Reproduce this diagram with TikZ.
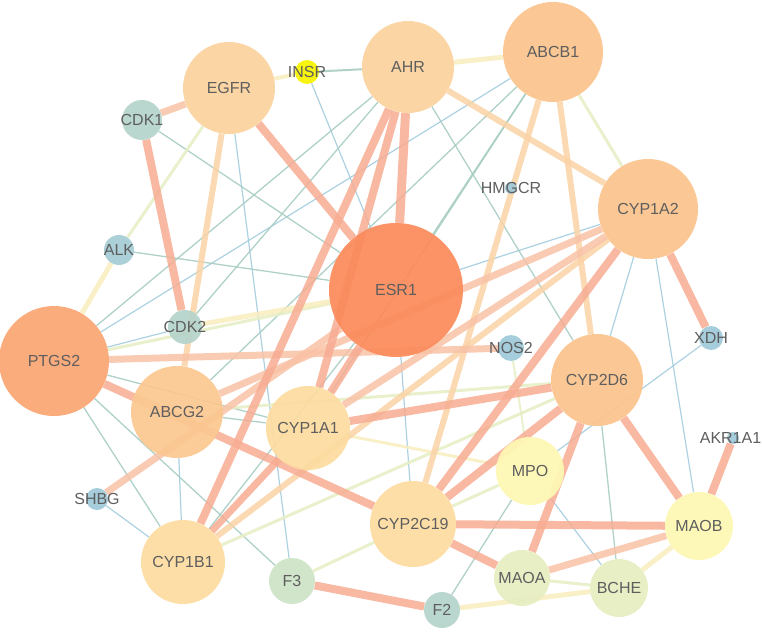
\documentclass[tikz,border=0pt]{standalone}
\usepackage{fontspec}
\setmainfont{Liberation Sans}
\pgfdeclarelayer{bg}
\pgfsetlayers{bg,main}
\definecolor{cESR}{HTML}{FB8B5B}
\definecolor{cPTGS}{HTML}{FBA673}
\definecolor{cOr}{HTML}{FBC48D}
\definecolor{cLOr}{HTML}{FCD29D}
\definecolor{cPale}{HTML}{FDDCA0}
\definecolor{cYel}{HTML}{FEF8B3}
\definecolor{cYG}{HTML}{E7EEC1}
\definecolor{cGr}{HTML}{CDE3C6}
\definecolor{cTeal}{HTML}{B5D4CB}
\definecolor{cBlue}{HTML}{9FC9D8}
\definecolor{cINSR}{HTML}{F7F300}
\definecolor{txt}{HTML}{5E5E5E}
\definecolor{eSal}{HTML}{F7AC92}
\definecolor{eLSal}{HTML}{F9C2A6}
\definecolor{eOr}{HTML}{FAD3A6}
\definecolor{ePY}{HTML}{F9EDBE}
\definecolor{eYG}{HTML}{E6EEC6}
\definecolor{eTeal}{HTML}{A6CCC2}
\definecolor{eBlue}{HTML}{A3CCDD}
\tikzset{
  gn/.style={circle, inner sep=0pt, draw=none, fill opacity=0.93},
  lab/.style={inner sep=0pt, text=txt, font=\fontsize{16}{18}\selectfont},
  esal/.style={draw=eSal, line width=8pt, draw opacity=0.85},
  elsal/.style={draw=eLSal, line width=7pt, draw opacity=0.85},
  eor/.style={draw=eOr, line width=6pt, draw opacity=0.85},
  epy/.style={draw=ePY, line width=5pt, draw opacity=0.85},
  eyg/.style={draw=eYG, line width=3pt, draw opacity=0.9},
  eteal/.style={draw=eTeal, line width=1.3pt, draw opacity=0.9},
  eblue/.style={draw=eBlue, line width=1.2pt, draw opacity=0.9}
}
\begin{document}
\begin{tikzpicture}[x=1pt,y=-1pt]
\useasboundingbox (0,0) rectangle (762,631);
% nodes (circles)
\node[gn, minimum size=134pt, fill=cESR] (ESR1) at (396,290) {};
\node[gn, minimum size=110pt, fill=cPTGS] (PTGS2) at (54,361) {};
\node[gn, minimum size=100pt, fill=cOr] (ABCB1) at (553,52) {};
\node[gn, minimum size=100pt, fill=cOr] (CYP1A2) at (648,209) {};
\node[gn, minimum size=92pt, fill=cOr] (CYP2D6) at (597,380) {};
\node[gn, minimum size=92pt, fill=cLOr] (EGFR) at (229,88) {};
\node[gn, minimum size=92pt, fill=cLOr] (AHR) at (408,67) {};
\node[gn, minimum size=92pt, fill=cOr!80!cLOr] (ABCG2) at (177,412) {};
\node[gn, minimum size=84pt, fill=cPale] (CYP1A1) at (308,428) {};
\node[gn, minimum size=84pt, fill=cPale] (CYP1B1) at (183,562) {};
\node[gn, minimum size=86pt, fill=cPale] (CYP2C19) at (413,524) {};
\node[gn, minimum size=68pt, fill=cYel] (MPO) at (530,471) {};
\node[gn, minimum size=68pt, fill=cYel] (MAOB) at (699,526) {};
\node[gn, minimum size=56pt, fill=cYG] (MAOA) at (522,578) {};
\node[gn, minimum size=58pt, fill=cYG] (BCHE) at (619,588) {};
\node[gn, minimum size=46pt, fill=cGr] (F3) at (292,581) {};
\node[gn, minimum size=36pt, fill=cTeal] (F2) at (442,610) {};
\node[gn, minimum size=40pt, fill=cTeal] (CDK1) at (142,120) {};
\node[gn, minimum size=34pt, fill=cTeal] (CDK2) at (185,327) {};
\node[gn, minimum size=30pt, fill=cBlue!70!cTeal] (ALK) at (119,250) {};
\node[gn, minimum size=26pt, fill=cBlue] (NOS2) at (511,348) {};
\node[gn, minimum size=24pt, fill=cBlue] (XDH) at (711,338) {};
\node[gn, minimum size=22pt, fill=cBlue] (SHBG) at (97,499) {};
\node[gn, minimum size=12pt, fill=cBlue] (HMGCR) at (511,188) {};
\node[gn, minimum size=12pt, fill=cBlue] (AKR1A1) at (733,438) {};
\node[gn, minimum size=24pt, fill=cINSR] (INSR) at (307,72) {};
% labels
\foreach \n in {ESR1,PTGS2,ABCB1,CYP1A2,CYP2D6,EGFR,AHR,ABCG2,CYP1A1,CYP1B1,CYP2C19,MPO,MAOB,MAOA,BCHE,F3,F2,CDK1,CDK2,ALK,NOS2,XDH,SHBG,HMGCR,INSR}
  \node[lab] (\n-l) at (\n) {\n};
\node[lab, xshift=-2.5pt] (AKR1A1-l) at (AKR1A1) {AKR1A1};
% edges
\begin{pgfonlayer}{bg}
% thin blue
\draw[eblue] (INSR) -- (ESR1);
\draw[eblue] (EGFR) -- (F3);
\draw[eblue] (ABCB1) -- (PTGS2);
\draw[eblue] (CYP1A2) -- (ESR1);
\draw[eblue] (CYP1A2) -- (MAOB);
\draw[eblue] (CYP1A2) -- (CYP2D6);
\draw[eblue] (XDH) -- (MPO);
\draw[eblue] (MPO) -- (BCHE);
\draw[eblue] (ESR1) -- (CYP2C19);
\draw[eblue] (PTGS2) -- (CDK2);
\draw[eblue] (SHBG) -- (CYP1B1);
\draw[eblue] (ABCG2) -- (CYP1B1);
% thin teal
\draw[eteal] (CDK1) -- (ESR1);
\draw[eteal] (ALK) -- (ESR1);
\draw[eteal] (AHR) -- (CDK2);
\draw[eteal] (PTGS2) -- (AHR);
\draw[eteal] (AHR) -- (CYP2D6);
\draw[eteal] (ABCB1) -- (ABCG2);
\draw[eteal] (ABCB1) -- (CYP1A1);
\draw[eteal] (ABCB1) -- (ESR1);
\draw[eteal] (PTGS2) -- (CYP1B1);
\draw[eteal] (PTGS2) -- (F3);
\draw[eteal] (ABCG2) -- (CYP1A1);
\draw[eteal] (PTGS2) -- (CYP1A1);
\draw[eteal] (CYP2D6) -- (BCHE);
\draw[eteal] (F2) -- (MPO);
\draw[eteal] (CYP1B1) -- (ESR1);
\draw[eteal, line width=2pt] (INSR) -- (AHR);
% pale yellow-green
\draw[eyg] (ALK) -- (EGFR);
\draw[eyg] (ABCB1) -- (CYP1A2);
\draw[eyg] (MAOA) -- (BCHE);
\draw[eyg] (F3) -- (CYP2C19);
\draw[eyg] (MPO) -- (CYP2C19);
\draw[eyg] (PTGS2) -- (ESR1);
\draw[eyg] (CYP2D6) -- (ABCG2);
\draw[eyg, line width=2pt] (NOS2) -- (MPO);
\draw[eyg] (CYP1B1) -- (CYP2D6);
% pale yellow
\draw[epy] (CDK2) -- (ESR1);
\draw[epy] (AHR) -- (ABCB1);
\draw[epy] (ALK) -- (PTGS2);
\draw[epy, line width=4pt] (EGFR) -- (INSR);
\draw[epy] (MAOB) -- (BCHE);
\draw[epy] (F2) -- (BCHE);
\draw[epy, line width=3pt] (CYP1A1) -- (MPO);
% light orange
\draw[eor] (EGFR) -- (ABCG2);
\draw[eor] (AHR) -- (CYP1A2);
\draw[eor] (ABCB1) -- (CYP2D6);
\draw[eor] (ABCB1) -- (CYP2C19);
\draw[eor] (CYP1A2) -- (CYP1B1);
% light salmon
\draw[elsal] (PTGS2) -- (NOS2);
\draw[elsal] (MAOA) -- (MAOB);
\draw[elsal] (EGFR) -- (CDK1);
\draw[elsal] (SHBG) -- (ESR1);
\draw[elsal] (CYP1A2) -- (CYP1A1);
\draw[elsal] (CYP1A2) -- (ABCG2);
% salmon
\draw[esal] (EGFR) -- (ESR1);
\draw[esal] (CDK1) -- (CDK2);
\draw[esal, line width=9pt] (AHR) -- (ESR1);
\draw[esal] (AHR) -- (CYP1A1);
\draw[esal] (AHR) -- (CYP1B1);
\draw[esal] (CYP1A1) -- (CYP2D6);
\draw[esal] (CYP1A2) -- (XDH);
\draw[esal] (CYP1A2) -- (CYP2C19);
\draw[esal] (CYP2D6) -- (CYP2C19);
\draw[esal] (CYP2D6) -- (MAOA);
\draw[esal] (CYP2D6) -- (MAOB);
\draw[esal] (AKR1A1) -- (MAOB);
\draw[esal] (CYP2C19) -- (MAOB);
\draw[esal] (CYP2C19) -- (MAOA);
\draw[esal] (F3) -- (F2);
\draw[esal] (PTGS2) -- (CYP2C19);
\draw[esal] (ESR1) -- (CYP1A1);
\draw[esal, line width=7pt] (CYP1B1) -- (CYP1A1);
\end{pgfonlayer}
\end{tikzpicture}
\end{document}
